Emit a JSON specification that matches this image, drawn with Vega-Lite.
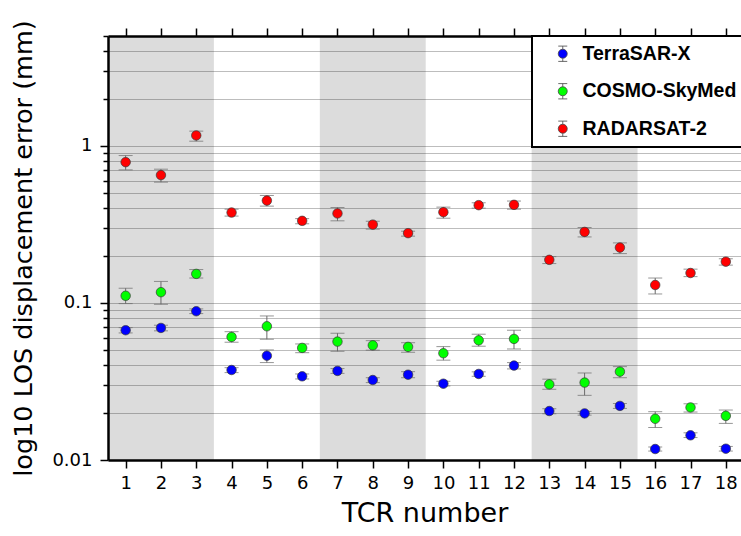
{
  "$schema": "https://vega.github.io/schema/vega-lite/v6.json",
  "autosize": {"type": "none"},
  "width": 633,
  "height": 424,
  "padding": {"left": 108, "top": 36, "right": 0, "bottom": 76},
  "background": "white",
  "config": {
    "view": {"stroke": null},
    "font": "DejaVu Sans",
    "axis": {"labelFont": "DejaVu Sans", "titleFont": "DejaVu Sans", "labelColor": "black", "titleColor": "black", "titleFontWeight": "normal"}
  },
  "datasets": {
    "bands": [
      {"from": 0.5, "to": 3.5},
      {"from": 6.5, "to": 9.5},
      {"from": 12.5, "to": 15.5}
    ],
    "errs": [
      {"tcr": 1, "sat": "TerraSAR-X", "val": 0.067, "lo": 0.0644, "hi": 0.0696},
      {"tcr": 2, "sat": "TerraSAR-X", "val": 0.0693, "lo": 0.0664, "hi": 0.0721},
      {"tcr": 3, "sat": "TerraSAR-X", "val": 0.0885, "lo": 0.0855, "hi": 0.0916},
      {"tcr": 4, "sat": "TerraSAR-X", "val": 0.0374, "lo": 0.036, "hi": 0.0387},
      {"tcr": 5, "sat": "TerraSAR-X", "val": 0.0461, "lo": 0.0417, "hi": 0.0502},
      {"tcr": 6, "sat": "TerraSAR-X", "val": 0.0341, "lo": 0.0328, "hi": 0.0353},
      {"tcr": 7, "sat": "TerraSAR-X", "val": 0.0369, "lo": 0.0356, "hi": 0.0382},
      {"tcr": 8, "sat": "TerraSAR-X", "val": 0.0323, "lo": 0.0311, "hi": 0.0334},
      {"tcr": 9, "sat": "TerraSAR-X", "val": 0.0349, "lo": 0.0334, "hi": 0.0365},
      {"tcr": 10, "sat": "TerraSAR-X", "val": 0.0306, "lo": 0.0296, "hi": 0.0317},
      {"tcr": 11, "sat": "TerraSAR-X", "val": 0.0353, "lo": 0.0341, "hi": 0.0364},
      {"tcr": 12, "sat": "TerraSAR-X", "val": 0.0399, "lo": 0.038, "hi": 0.0417},
      {"tcr": 13, "sat": "TerraSAR-X", "val": 0.0205, "lo": 0.0197, "hi": 0.0212},
      {"tcr": 14, "sat": "TerraSAR-X", "val": 0.0198, "lo": 0.0193, "hi": 0.0204},
      {"tcr": 15, "sat": "TerraSAR-X", "val": 0.0221, "lo": 0.0213, "hi": 0.0229},
      {"tcr": 16, "sat": "TerraSAR-X", "val": 0.01175, "lo": 0.0114, "hi": 0.0121},
      {"tcr": 17, "sat": "TerraSAR-X", "val": 0.01436, "lo": 0.0139, "hi": 0.0149},
      {"tcr": 18, "sat": "TerraSAR-X", "val": 0.0118, "lo": 0.0114, "hi": 0.0122},
      {"tcr": 1, "sat": "COSMO-SkyMed", "val": 0.111, "lo": 0.099, "hi": 0.124},
      {"tcr": 2, "sat": "COSMO-SkyMed", "val": 0.117, "lo": 0.098, "hi": 0.137},
      {"tcr": 3, "sat": "COSMO-SkyMed", "val": 0.153, "lo": 0.144, "hi": 0.163},
      {"tcr": 4, "sat": "COSMO-SkyMed", "val": 0.0607, "lo": 0.0562, "hi": 0.0656},
      {"tcr": 5, "sat": "COSMO-SkyMed", "val": 0.071, "lo": 0.0587, "hi": 0.0826},
      {"tcr": 6, "sat": "COSMO-SkyMed", "val": 0.0517, "lo": 0.0482, "hi": 0.0548},
      {"tcr": 7, "sat": "COSMO-SkyMed", "val": 0.0567, "lo": 0.0492, "hi": 0.0641},
      {"tcr": 8, "sat": "COSMO-SkyMed", "val": 0.0537, "lo": 0.05, "hi": 0.0575},
      {"tcr": 9, "sat": "COSMO-SkyMed", "val": 0.0525, "lo": 0.0485, "hi": 0.0558},
      {"tcr": 10, "sat": "COSMO-SkyMed", "val": 0.0478, "lo": 0.0432, "hi": 0.0527},
      {"tcr": 11, "sat": "COSMO-SkyMed", "val": 0.0578, "lo": 0.053, "hi": 0.0632},
      {"tcr": 12, "sat": "COSMO-SkyMed", "val": 0.059, "lo": 0.0509, "hi": 0.067},
      {"tcr": 13, "sat": "COSMO-SkyMed", "val": 0.0303, "lo": 0.0282, "hi": 0.0327},
      {"tcr": 14, "sat": "COSMO-SkyMed", "val": 0.0311, "lo": 0.0258, "hi": 0.0358},
      {"tcr": 15, "sat": "COSMO-SkyMed", "val": 0.0365, "lo": 0.0334, "hi": 0.0393},
      {"tcr": 16, "sat": "COSMO-SkyMed", "val": 0.0183, "lo": 0.0161, "hi": 0.0203},
      {"tcr": 17, "sat": "COSMO-SkyMed", "val": 0.0216, "lo": 0.0202, "hi": 0.0228},
      {"tcr": 18, "sat": "COSMO-SkyMed", "val": 0.0191, "lo": 0.0171, "hi": 0.0208},
      {"tcr": 1, "sat": "RADARSAT-2", "val": 0.787, "lo": 0.703, "hi": 0.867},
      {"tcr": 2, "sat": "RADARSAT-2", "val": 0.651, "lo": 0.587, "hi": 0.71},
      {"tcr": 3, "sat": "RADARSAT-2", "val": 1.164, "lo": 1.07, "hi": 1.24},
      {"tcr": 4, "sat": "RADARSAT-2", "val": 0.376, "lo": 0.357, "hi": 0.395},
      {"tcr": 5, "sat": "RADARSAT-2", "val": 0.448, "lo": 0.413, "hi": 0.483},
      {"tcr": 6, "sat": "RADARSAT-2", "val": 0.333, "lo": 0.319, "hi": 0.344},
      {"tcr": 7, "sat": "RADARSAT-2", "val": 0.371, "lo": 0.333, "hi": 0.405},
      {"tcr": 8, "sat": "RADARSAT-2", "val": 0.315, "lo": 0.295, "hi": 0.331},
      {"tcr": 9, "sat": "RADARSAT-2", "val": 0.278, "lo": 0.266, "hi": 0.286},
      {"tcr": 10, "sat": "RADARSAT-2", "val": 0.378, "lo": 0.346, "hi": 0.407},
      {"tcr": 11, "sat": "RADARSAT-2", "val": 0.419, "lo": 0.401, "hi": 0.434},
      {"tcr": 12, "sat": "RADARSAT-2", "val": 0.421, "lo": 0.395, "hi": 0.445},
      {"tcr": 13, "sat": "RADARSAT-2", "val": 0.188, "lo": 0.178, "hi": 0.197},
      {"tcr": 14, "sat": "RADARSAT-2", "val": 0.283, "lo": 0.263, "hi": 0.302},
      {"tcr": 15, "sat": "RADARSAT-2", "val": 0.225, "lo": 0.206, "hi": 0.241},
      {"tcr": 16, "sat": "RADARSAT-2", "val": 0.13, "lo": 0.114, "hi": 0.144},
      {"tcr": 17, "sat": "RADARSAT-2", "val": 0.155, "lo": 0.147, "hi": 0.164},
      {"tcr": 18, "sat": "RADARSAT-2", "val": 0.183, "lo": 0.174, "hi": 0.191}
    ]
  },
  "resolve": {"axis": {"x": "independent"}},
  "layer": [
    {
      "data": {"name": "bands"},
      "mark": {"type": "rect", "fill": "#000000", "fillOpacity": 0.137},
      "encoding": {
        "x": {"field": "from", "type": "quantitative",
          "scale": {"domain": [0.5, 18.43], "nice": false, "zero": false},
          "axis": {"orient": "top", "labels": false, "title": null, "grid": false,
            "values": [1,2,3,4,5,6,7,8,9,10,11,12,13,14,15,16,17,18],
            "tickSize": 8, "tickColor": "black", "tickWidth": 1.5,
            "domainColor": "black", "domainWidth": 2.5}},
        "x2": {"field": "to"}
      }
    },
    {
      "data": {"name": "errs"},
      "mark": {"type": "errorbar", "color": "#6a6a6a", "thickness": 1, "ticks": {"size": 14, "color": "#6a6a6a", "thickness": 1}},
      "encoding": {
        "x": {"field": "tcr", "type": "quantitative",
          "scale": {"domain": [0.5, 18.43], "nice": false, "zero": false},
          "axis": {"orient": "bottom", "title": "TCR number", "grid": false,
            "values": [1,2,3,4,5,6,7,8,9,10,11,12,13,14,15,16,17,18],
            "tickSize": 8, "tickColor": "black", "tickWidth": 1.5,
            "domainColor": "black", "domainWidth": 2.5,
            "labelFontSize": 18, "labelPadding": 6, "labelFlush": false, "labelOverlap": false,
            "titleFontSize": 27, "titlePadding": 8}},
        "y": {"field": "lo", "type": "quantitative",
          "scale": {"type": "log", "domain": [0.01, 5], "nice": false},
          "axis": {
            "title": "log10 LOS displacement error (mm)",
            "values": [0.01,0.02,0.03,0.04,0.05,0.06,0.07,0.08,0.09,0.1,0.2,0.3,0.4,0.5,0.6,0.7,0.8,0.9,1,2,3,4,5],
            "labelExpr": "datum.value == 0.01 ? '0.01' : datum.value == 0.1 ? '0.1' : datum.value == 1 ? '1' : ''",
            "labelOverlap": false, "labelFlush": false,
            "tickSize": {"condition": {"test": "datum.value == 0.01 || datum.value == 0.1 || datum.value == 1", "value": 8}, "value": 5},
            "tickColor": "black", "tickWidth": 1.5,
            "grid": true, "gridColor": "#bdbdbd", "gridWidth": 1,
            "domainColor": "black", "domainWidth": 2.5,
            "labelFontSize": 18, "labelPadding": 8,
            "titleFontSize": 25.5, "titlePadding": 15}},
        "y2": {"field": "hi"}
      }
    },
    {
      "data": {"name": "errs"},
      "mark": {"type": "circle", "size": 90, "opacity": 1, "stroke": "#3a3a3a", "strokeWidth": 0.7},
      "encoding": {
        "x": {"field": "tcr", "type": "quantitative",
          "scale": {"domain": [0.5, 18.43], "nice": false, "zero": false}, "axis": null},
        "y": {"field": "val", "type": "quantitative",
          "scale": {"type": "log", "domain": [0.01, 5], "nice": false},
          "axis": {
            "title": "log10 LOS displacement error (mm)",
            "values": [0.01,0.02,0.03,0.04,0.05,0.06,0.07,0.08,0.09,0.1,0.2,0.3,0.4,0.5,0.6,0.7,0.8,0.9,1,2,3,4,5],
            "labelExpr": "datum.value == 0.01 ? '0.01' : datum.value == 0.1 ? '0.1' : datum.value == 1 ? '1' : ''",
            "labelOverlap": false, "labelFlush": false,
            "tickSize": {"condition": {"test": "datum.value == 0.01 || datum.value == 0.1 || datum.value == 1", "value": 8}, "value": 5},
            "tickColor": "black", "tickWidth": 1.5,
            "grid": true, "gridColor": "#bdbdbd", "gridWidth": 1,
            "domainColor": "black", "domainWidth": 2.5,
            "labelFontSize": 18, "labelPadding": 8,
            "titleFontSize": 25.5, "titlePadding": 15}},
        "color": {"field": "sat", "type": "nominal",
          "scale": {"domain": ["TerraSAR-X", "COSMO-SkyMed", "RADARSAT-2"], "range": ["#0000ff", "#00ff00", "#ff0000"]},
          "legend": {
            "title": null, "orient": "none", "legendX": 424, "legendY": 0,
            "fillColor": "white", "strokeColor": "black",
            "padding": 8, "rowPadding": 16.5,
            "symbolType": "M-1,0A1,1,0,1,1,1,0A1,1,0,1,1,-1,0ZM0,-1L0,-1.7M-1,-1.7L1,-1.7M0,1L0,1.7M-1,1.7L1,1.7",
            "symbolSize": 81, "symbolStrokeColor": "#444444", "symbolStrokeWidth": 0.8, "symbolOpacity": 1,
            "symbolOffset": 13,
            "labelFont": "Liberation Sans", "labelFontSize": 19.5, "labelFontWeight": "bold", "labelColor": "black",
            "labelOffset": 10, "labelLimit": 400,
            "encode": {"legend": {"update": {"strokeWidth": {"value": 2}}}}}}
      }
    }
  ]
}
